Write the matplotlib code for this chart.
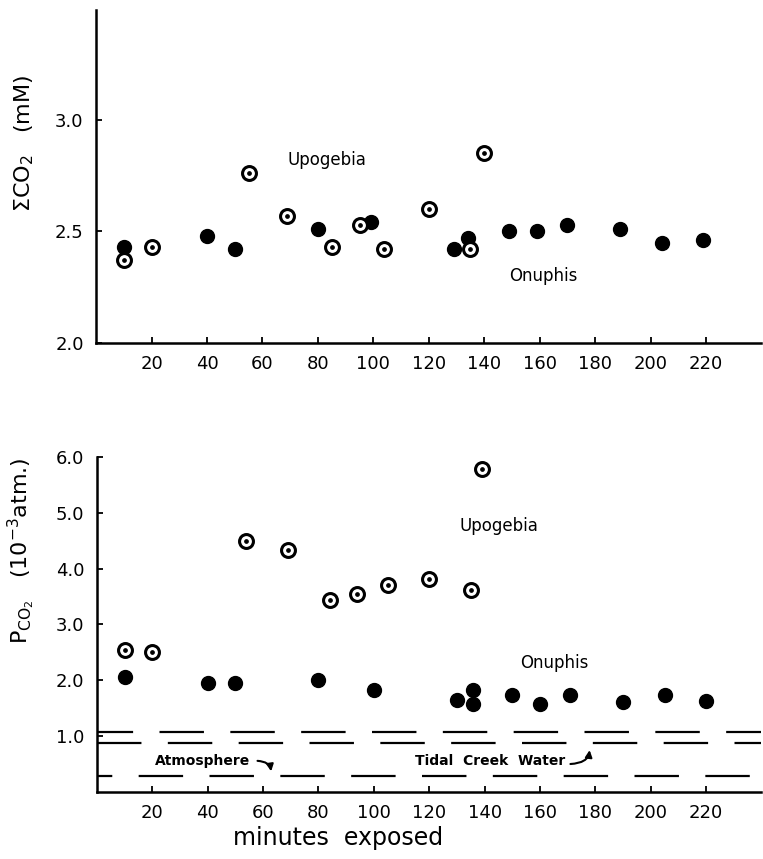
import matplotlib
matplotlib.use("Agg")
import matplotlib.pyplot as plt

# DATA ------------------------------------------------------------------------

# total CO2 (mM), top panel
onu_min_sum = [10, 40, 50, 80, 99, 129, 134, 149, 159, 170, 189, 204, 219]
onu_sum = [2.43, 2.48, 2.42, 2.51, 2.54, 2.42, 2.47, 2.50, 2.50, 2.53, 2.51, 2.45, 2.46]
upo_min_sum = [10, 20, 55, 69, 85, 95, 104, 120, 135, 140]
upo_sum = [2.37, 2.43, 2.76, 2.57, 2.43, 2.53, 2.42, 2.60, 2.42, 2.85]

# PCO2 (10^-3 atm), bottom panel
onu_min_p = [10, 40, 50, 80, 100, 130, 136, 136, 150, 160, 171, 190, 205, 220]
onu_p = [2.06, 1.96, 1.96, 2.01, 1.83, 1.64, 1.83, 1.58, 1.73, 1.58, 1.73, 1.61, 1.73, 1.63]
upo_min_p = [10, 20, 54, 69, 84, 94, 105, 120, 135, 139]
upo_p = [2.54, 2.51, 4.49, 4.33, 3.43, 3.54, 3.70, 3.82, 3.62, 5.78]

# reference levels: tidal creek water (two lines) and atmosphere
ref_levels = [1.08, 0.87, 0.29]
ref_offsets = [6, 0, 21]

x_ticks = [20, 40, 60, 80, 100, 120, 140, 160, 180, 200, 220]
top_yticks = [2.0, 2.5, 3.0]
bot_yticks = [1.0, 2.0, 3.0, 4.0, 5.0, 6.0]

# STYLE -----------------------------------------------------------------------
plt.rcParams['lines.scale_dashes'] = False
plt.rcParams['font.family'] = 'DejaVu Sans'

fig = plt.figure(figsize=(7.63, 8.59), dpi=100)
ax1 = fig.add_axes([0.126, 0.6007, 0.872, 0.3873])
ax2 = fig.add_axes([0.127, 0.078, 0.871, 0.390])


def style_axis(ax):
    for s in ['top', 'right']:
        ax.spines[s].set_visible(False)
    for s in ['left', 'bottom']:
        ax.spines[s].set_linewidth(1.8)
    ax.tick_params(direction='in', length=4, width=1.3, labelsize=13, pad=9)
    ax.set_xlim(0, 240)
    ax.set_xticks(x_ticks)
    ax.set_xticklabels([str(t) for t in x_ticks])


def bullseye(ax, x, y):
    ax.plot(x, y, 'o', ms=10, mfc='white', mec='black', mew=2.2, ls='none', zorder=3)
    ax.plot(x, y, 'o', ms=2.4, mfc='black', mec='black', ls='none', zorder=4)


def filled(ax, x, y):
    ax.plot(x, y, 'o', ms=10, mfc='black', mec='black', ls='none', zorder=3)


# TOP PANEL -------------------------------------------------------------------
style_axis(ax1)
ax1.set_ylim(2.0, 3.49)
ax1.set_yticks(top_yticks)
ax1.set_yticklabels(['2.0', '2.5', '3.0'])
filled(ax1, onu_min_sum, onu_sum)
bullseye(ax1, upo_min_sum, upo_sum)
ax1.text(69, 2.82, 'Upogebia', fontsize=12, va='center')
ax1.text(149, 2.30, 'Onuphis', fontsize=12, va='center')
ax1.set_ylabel(r'$\Sigma$CO$_2$   (mM)', fontsize=16)
ax1.yaxis.set_label_coords(-0.09, 0.6)

# BOTTOM PANEL ----------------------------------------------------------------
style_axis(ax2)
ax2.set_ylim(0, 6.0)
ax2.set_yticks(bot_yticks)
ax2.set_yticklabels(['1.0', '2.0', '3.0', '4.0', '5.0', '6.0'])
for lev, off in zip(ref_levels, ref_offsets):
    ax2.axhline(lev, color='black', lw=1.6, ls=(off, (32, 19)), zorder=2)
filled(ax2, onu_min_p, onu_p)
bullseye(ax2, upo_min_p, upo_p)
ax2.text(131, 4.77, 'Upogebia', fontsize=12, va='center')
ax2.text(153, 2.31, 'Onuphis', fontsize=12, va='center')
ax2.text(21, 0.55, 'Atmosphere', fontsize=10, va='center', fontweight='bold')
ax2.text(115, 0.55, 'Tidal  Creek  Water', fontsize=10, va='center', fontweight='bold')
ax2.annotate('', xy=(63, 0.32), xytext=(57, 0.56),
             arrowprops=dict(arrowstyle='-|>', color='black', lw=1.5,
                             connectionstyle='angle3,angleA=0,angleB=-90'))
ax2.annotate('', xy=(178, 0.80), xytext=(170, 0.50),
             arrowprops=dict(arrowstyle='-|>', color='black', lw=1.5,
                             connectionstyle='angle3,angleA=0,angleB=90'))
ax2.set_ylabel(r'P$_{\mathregular{CO_2}}$   (10$^{-3}$atm.)', fontsize=16)
ax2.yaxis.set_label_coords(-0.09, 0.72)

fig.text(0.443, 0.025, 'minutes  exposed', fontsize=17, ha='center', va='center')

fig.savefig('out.png', dpi=100)
